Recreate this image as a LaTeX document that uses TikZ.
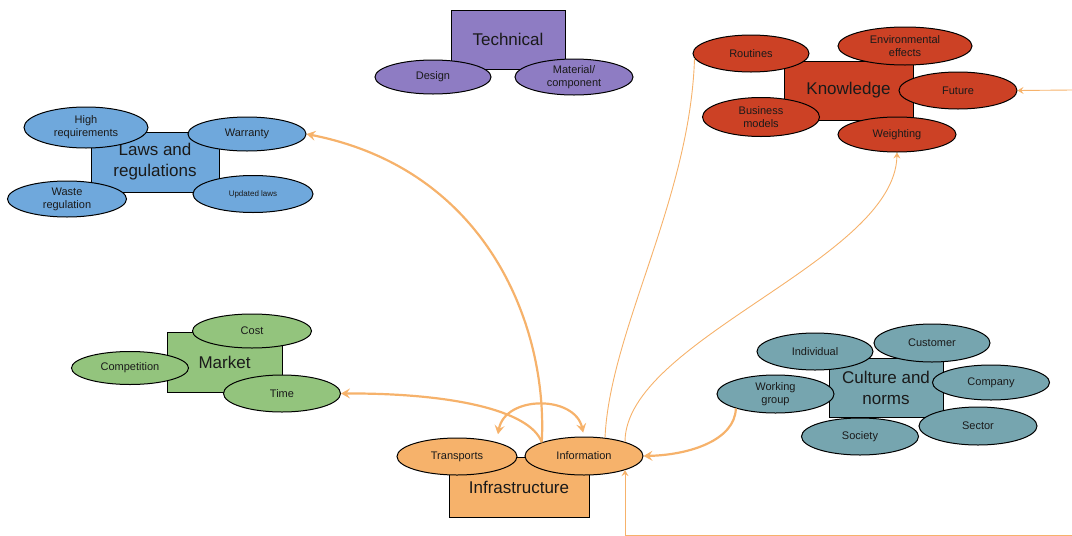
\documentclass[tikz,border=0pt]{standalone}
\usepackage{fontspec}
\setmainfont{Liberation Sans}
\usetikzlibrary{shapes.geometric,arrows.meta}

\definecolor{techc}{HTML}{8E7CC3}
\definecolor{knowc}{HTML}{CC4125}
\definecolor{lawc}{HTML}{6FA8DC}
\definecolor{markc}{HTML}{93C47D}
\definecolor{cultc}{HTML}{76A5AF}
\definecolor{infc}{HTML}{F6B26B}
\definecolor{linkc}{HTML}{F6B26B}
\definecolor{inkc}{HTML}{1A1A1A}

\begin{document}
\begin{tikzpicture}[x=1pt,y=-1pt,
  area/.style={rectangle, draw=black, line width=1pt, fill=#1, inner sep=0pt,
    align=center, text=inkc, font=\fontsize{17}{21}\selectfont},
  item/.style={ellipse, draw=black, line width=1pt, fill=#1, inner sep=0pt,
    align=center, text=inkc, font=\fontsize{11}{13}\selectfont},
  strong link/.style={draw=linkc, line width=2.2pt,
    -{Stealth[length=9pt,width=10pt,inset=3.5pt]}},
  light link/.style={draw=linkc, line width=0.9pt},
  light arrow/.style={light link, -{Stealth[length=6pt,width=7pt,inset=2.2pt]}}]

\useasboundingbox (0,0) rectangle (1072,536);

% ---------- Technical ----------
\node[area=techc, minimum width=114pt, minimum height=59pt] (tech) at (508,39.5) {Technical};
\node[item=techc, minimum width=116pt, minimum height=34pt] (design) at (433,77) {Design};
\node[item=techc, minimum width=118pt, minimum height=36pt] (material) at (574,77) {Material/\\component};

% ---------- Knowledge ----------
\node[area=knowc, minimum width=129pt, minimum height=59pt] (know) at (848.5,90.5) {Knowledge};
\node[item=knowc, minimum width=116pt, minimum height=37pt] (routines) at (751,53.5) {Routines};
\node[item=knowc, minimum width=134pt, minimum height=38pt] (envir) at (905,46) {Environmental\\effects};
\node[item=knowc, minimum width=118pt, minimum height=37pt] (future) at (958,90.5) {Future};
\node[item=knowc, minimum width=117pt, minimum height=39pt] (business) at (761,117) {Business\\models};
\node[item=knowc, minimum width=118pt, minimum height=35pt] (weighting) at (897,134.5) {Weighting};

% ---------- Laws and regulations ----------
\node[area=lawc, minimum width=128pt, minimum height=60pt] (laws) at (155,162) {Laws and\\regulations};
\node[item=lawc, minimum width=124pt, minimum height=41pt] (highreq) at (86,127.5) {High\\requirements};
\node[item=lawc, minimum width=118pt, minimum height=34pt] (warranty) at (247,134) {Warranty};
\node[item=lawc, minimum width=119pt, minimum height=36pt] (waste) at (67,199) {Waste\\regulation};
\node[item=lawc, minimum width=120pt, minimum height=37pt, font=\fontsize{8}{10}\selectfont] (updated) at (253,194) {Updated laws};

% ---------- Market ----------
\node[area=markc, minimum width=115pt, minimum height=60pt] (market) at (224.5,362) {Market};
\node[item=markc, minimum width=119pt, minimum height=34pt] (cost) at (252,331) {Cost};
\node[item=markc, minimum width=117pt, minimum height=33pt] (competition) at (130,368) {Competition};
\node[item=markc, minimum width=117pt, minimum height=37pt] (time) at (282,393.5) {Time};

% ---------- Culture and norms ----------
\node[area=cultc, minimum width=114pt, minimum height=59pt] (culture) at (886,387.5) {Culture and\\norms};
\node[item=cultc, minimum width=116pt, minimum height=37pt] (individual) at (815,351.5) {Individual};
\node[item=cultc, minimum width=116pt, minimum height=38pt] (customer) at (932,343) {Customer};
\node[item=cultc, minimum width=117pt, minimum height=35pt] (company) at (991,382.5) {Company};
\node[item=cultc, minimum width=117pt, minimum height=38pt] (working) at (775.5,394) {Working\\group};
\node[item=cultc, minimum width=117pt, minimum height=37pt] (society) at (860,436.5) {Society};
\node[item=cultc, minimum width=118pt, minimum height=38pt] (sector) at (978,426) {Sector};

% ---------- Infrastructure ----------
\node[area=infc, minimum width=140pt, minimum height=60pt] (infra) at (519,487) {Infrastructure};
\node[item=infc, minimum width=120pt, minimum height=37pt] (transports) at (457,456.5) {Transports};
\node[item=infc, minimum width=118pt, minimum height=38pt] (information) at (584,456) {Information};

% ---------- outside ends of the feeder lines ----------
\coordinate (futurein) at (1072,90);
\coordinate (bottomin) at (1072,535);

% ---------- connectors ----------
% information feeds laws and market
\draw[strong link] (information.162) .. controls (548,330) and (490,170) .. (warranty.east);
\draw[strong link] (information.162) .. controls (530,410) and (450,393) .. (time.east);
% exchange between information and transports
\draw[strong link, {Stealth[length=9pt,width=10pt,inset=3.5pt]}-{Stealth[length=9pt,width=10pt,inset=3.5pt]},
  shorten <=4pt, shorten >=8pt]
  (information.north) .. controls (575,395) and (505,395) .. (transports.20);
% culture feeds information
\draw[strong link] (working.200) .. controls (735,440) and (690,455) .. (information.east);
% knowledge links
\draw[light link] (information.41) .. controls (610,330) and (690,200) .. (routines.185);
\draw[light arrow] (information.19) .. controls (625,340) and (895,260) .. (weighting.south);
\draw[light arrow] (futurein) -- (future.east);
\draw[light arrow] (bottomin) -| (information.-19);

\end{tikzpicture}
\end{document}
